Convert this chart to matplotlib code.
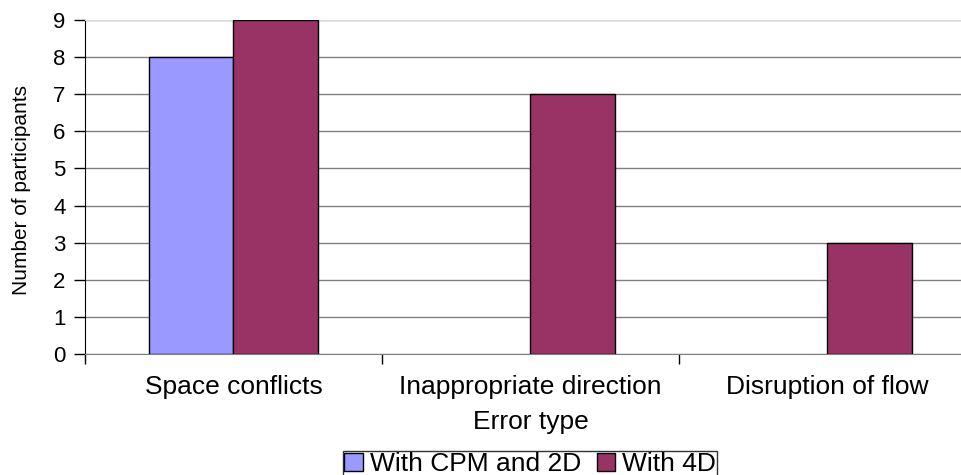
import numpy as np
import matplotlib
matplotlib.use("Agg")
import matplotlib.pyplot as plt

plt.rcParams['font.family'] = ['Liberation Sans', 'DejaVu Sans']

# error counts per category
categories = ['Space conflicts', 'Inappropriate direction', 'Disruption of flow']
cpm_2d = [8, 0, 0]
with_4d = [9, 7, 3]
series_names = ['With CPM and 2D', 'With 4D']
yticks = list(range(0, 10))

fig = plt.figure(figsize=(9.62, 4.75), dpi=100)
# plot area runs a little past the right edge of the figure
ax = fig.add_axes([85 / 962, 121 / 475, 891 / 962, 334 / 475])

x = np.arange(len(categories))
w = 0.286
# empty bars get no outline so nothing shows on the zero line
ax.bar(x - w / 2, cpm_2d, w, color='#9999ff', edgecolor='black',
       linewidth=[1 if v > 0 else 0 for v in cpm_2d],
       label=series_names[0], zorder=3)
ax.bar(x + w / 2, with_4d, w, color='#993366', edgecolor='black',
       linewidth=[1 if v > 0 else 0 for v in with_4d],
       label=series_names[1], zorder=3)

ax.set_xlim(-0.5, len(categories) - 0.5)
ax.set_ylim(0, 9)
ax.set_yticks(yticks)
ax.set_yticklabels([str(v) for v in yticks], fontsize=16)
ax.tick_params(axis='y', direction='out', length=8, width=1, pad=6)

ax.set_xticks(x)
ax.set_xticklabels(categories, fontsize=19)
ax.set_xticks(np.arange(len(categories) + 1) - 0.5, minor=True)
ax.tick_params(axis='x', which='major', length=0, pad=15)
ax.tick_params(axis='x', which='minor', direction='out', length=7, width=1)

ax.grid(axis='y', color='#808080', linewidth=1, zorder=0)
ax.set_axisbelow(True)
ax.spines['right'].set_visible(False)
ax.spines['top'].set_color('#d9d9d9')
ax.spines['bottom'].set_color('#808080')
ax.spines['left'].set_color('black')

ax.set_xlabel('Error type', fontsize=19, labelpad=8)
fig.text(22 / 962, 1 - 190 / 475, 'Number of participants', rotation=90,
         fontsize=15, ha='center', va='center')

fig.legend(loc='lower center', bbox_to_anchor=(530 / 962, -0.005), ncol=2,
           fontsize=19, frameon=True, fancybox=False, edgecolor='black',
           handlelength=0.7, handleheight=0.7, handletextpad=0.25,
           columnspacing=0.6, borderpad=0.05, borderaxespad=0)

fig.savefig('out.png', dpi=100)
